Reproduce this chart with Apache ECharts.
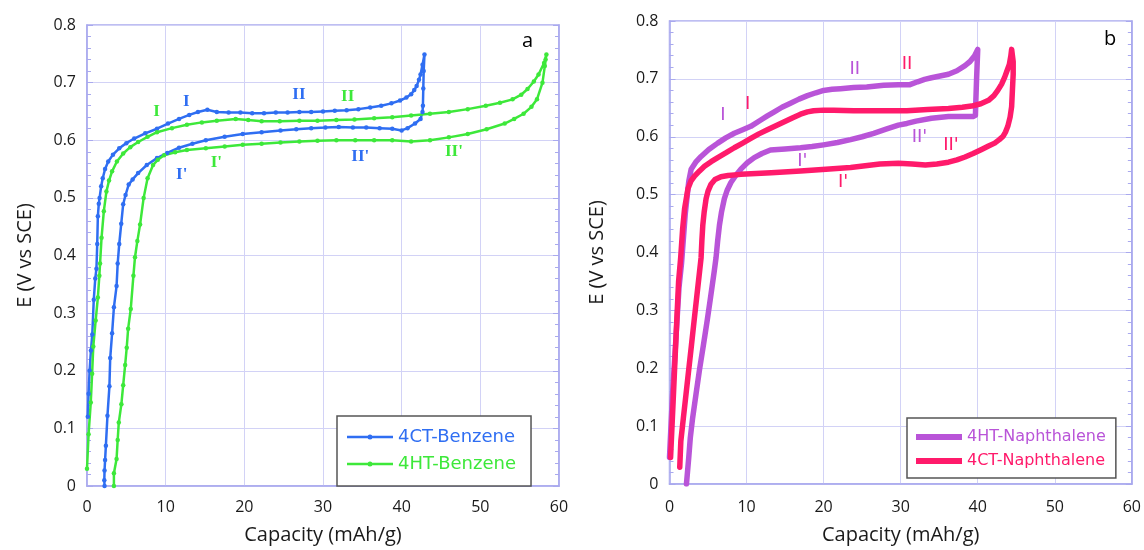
<!DOCTYPE html>
<html>
<head>
<meta charset="utf-8">
<script src="https://cdn.jsdelivr.net/npm/echarts@6/dist/echarts.min.js"></script>
<style>
html,body{margin:0;padding:0;background:#fff;}
#c{width:1144px;height:550px;}
</style>
</head>
<body>
<div id="c"></div>
<script>
// ---------- data (Capacity mAh/g, E V vs SCE) ----------
const xTicks = [0, 10, 20, 30, 40, 50, 60];
const yTicks = [0, 0.1, 0.2, 0.3, 0.4, 0.5, 0.6, 0.7, 0.8];

const benzene4CT = [
  [0.1,0.12],[0.2,0.16],[0.33,0.2],[0.5,0.235],[0.67,0.263],[0.86,0.323],[1.05,0.36],[1.2,0.377],
  [1.3,0.42],[1.38,0.468],[1.5,0.49],[1.6,0.5],[1.8,0.52],[2.0,0.534],[2.3,0.55],[2.7,0.563],
  [3.3,0.575],[4.1,0.586],[5.0,0.595],[6.0,0.603],[7.4,0.612],[8.9,0.62],[10.3,0.629],[11.7,0.637],
  [13.0,0.644],[14.1,0.649],[15.3,0.653],[16.5,0.649],[18.0,0.648],[19.5,0.648],[21,0.647],[22.5,0.647],
  [24,0.648],[25.5,0.648],[27,0.649],[28.5,0.649],[30,0.65],[31.5,0.651],[33,0.652],[34.5,0.654],
  [36,0.657],[37.4,0.66],[38.7,0.664],[39.8,0.669],[40.6,0.674],[41.2,0.68],[41.6,0.687],[41.9,0.694],
  [42.2,0.705],[42.4,0.714],[42.65,0.731],[42.9,0.749],
  [42.8,0.72],[42.75,0.69],[42.7,0.66],[42.65,0.649],[42.4,0.637],[41.7,0.629],[40.75,0.621],[40.0,0.617],
  [38.8,0.62],[37.2,0.621],[35.5,0.622],[33.8,0.622],[32,0.623],[30.3,0.622],[28.5,0.621],[26.6,0.619],
  [24.6,0.617],[22.2,0.614],[19.8,0.611],[17.5,0.606],[15.1,0.6],[13.4,0.594],[11.7,0.587],[10.2,0.578],
  [8.9,0.569],[7.6,0.557],[6.5,0.543],[5.8,0.532],[5.3,0.523],[4.9,0.505],[4.6,0.489],[4.35,0.455],
  [4.1,0.42],[3.9,0.386],[3.76,0.347],[3.42,0.31],[3.19,0.265],[2.95,0.222],[2.85,0.173],[2.6,0.122],
  [2.4,0.07],[2.3,0.045],[2.23,0.027],[2.2,0.01],[2.23,0]
];

const benzene4HT = [
  [0,0.03],[0.2,0.09],[0.48,0.145],[0.65,0.195],[0.8,0.242],[1.1,0.287],[1.38,0.327],[1.57,0.365],
  [1.66,0.386],[1.85,0.431],[2.14,0.477],[2.47,0.511],[2.8,0.53],[3.19,0.546],[3.8,0.563],[4.6,0.577],
  [5.5,0.588],[6.5,0.597],[7.7,0.606],[8.9,0.614],[10.8,0.621],[12.7,0.627],[14.6,0.631],[16.5,0.634],
  [18.9,0.637],[20.5,0.635],[22.2,0.633],[24.5,0.633],[27,0.634],[29.3,0.634],[31.7,0.635],[34,0.636],
  [36.5,0.638],[38.8,0.64],[41.2,0.643],[43.6,0.646],[46.0,0.649],[48.4,0.654],[50.7,0.66],[52.5,0.665],
  [54.1,0.671],[55.2,0.679],[56.0,0.689],[56.8,0.702],[57.4,0.714],[58.1,0.734],[58.4,0.749],
  [58.3,0.74],[58.2,0.729],[57.9,0.7],[57.2,0.671],[56.5,0.658],[55.5,0.646],[54.3,0.637],[53.1,0.629],
  [50.8,0.619],[48.4,0.611],[46.0,0.605],[43.6,0.6],[41.2,0.598],[38.8,0.6],[36.5,0.6],[34.1,0.6],
  [31.7,0.6],[29.3,0.599],[27,0.598],[24.6,0.596],[22.2,0.594],[19.8,0.592],[17.5,0.589],[15.1,0.586],
  [12.7,0.583],[11.2,0.579],[9.8,0.574],[9.0,0.566],[8.4,0.557],[7.7,0.534],[7.2,0.5],[6.75,0.454],
  [6.4,0.425],[6.1,0.397],[5.9,0.365],[5.56,0.307],[5.23,0.273],[5.05,0.24],[4.85,0.21],[4.6,0.175],
  [4.37,0.142],[4.04,0.11],[3.9,0.08],[3.76,0.047],[3.42,0.022],[3.42,0]
];

const naph4HT = [
  [0,0.046],[0.38,0.153],[0.85,0.255],[1.23,0.339],[1.56,0.381],[2.04,0.466],[2.5,0.523],[2.81,0.544],
  [3.4,0.556],[4.1,0.566],[5.1,0.578],[6.26,0.589],[7.3,0.598],[8.41,0.606],[9.5,0.612],[10.55,0.618],
  [11.85,0.629],[12.7,0.636],[13.6,0.643],[14.6,0.651],[15.7,0.658],[16.8,0.665],[17.9,0.671],[19.0,0.676],
  [20.0,0.68],[21.1,0.682],[22.2,0.683],[23.9,0.685],[25.6,0.686],[27.8,0.689],[29.7,0.690],[31.2,0.690],
  [32.2,0.695],[33.1,0.699],[34.0,0.702],[35.1,0.705],[36.2,0.708],[37.3,0.714],[38.35,0.723],[39.0,0.73],
  [39.6,0.74],[40.0,0.751],
  [39.85,0.70],[39.75,0.66],[39.7,0.637],[39.4,0.635],[37.8,0.635],[36.2,0.635],[34.0,0.632],[32.0,0.627],
  [30.8,0.623],[29.7,0.620],[28.1,0.613],[26.5,0.606],[25.0,0.600],[23.5,0.595],[21.8,0.590],[20.0,0.586],
  [18.5,0.583],[17.0,0.581],[15.0,0.579],[13.1,0.577],[12.0,0.571],[11.0,0.564],[10.1,0.555],[9.26,0.544],
  [8.6,0.533],[7.97,0.521],[7.5,0.508],[7.12,0.493],[6.75,0.47],[6.48,0.447],[6.25,0.42],[6.04,0.391],
  [5.8,0.367],[5.3,0.32],[4.9,0.283],[4.4,0.24],[3.9,0.198],[3.45,0.156],[3.0,0.114],[2.7,0.08],
  [2.5,0.046],[2.2,0]
];

const naph4CT = [
  [0.14,0.046],[0.47,0.142],[0.85,0.255],[1.18,0.35],[1.45,0.391],[1.7,0.44],[1.96,0.476],[2.39,0.51],
  [2.8,0.524],[3.25,0.532],[3.9,0.541],[4.54,0.549],[5.4,0.557],[6.26,0.564],[7.3,0.572],[8.41,0.581],
  [9.5,0.589],[10.55,0.597],[11.6,0.605],[12.7,0.612],[13.8,0.619],[14.9,0.626],[16.0,0.633],[17.0,0.639],
  [17.9,0.643],[18.7,0.645],[20.0,0.646],[21.3,0.646],[23.9,0.645],[27.8,0.645],[30.8,0.645],[33.5,0.647],
  [36.2,0.649],[38.0,0.651],[39.2,0.653],[40.4,0.657],[41.4,0.663],[42.1,0.671],[42.6,0.68],[43.1,0.691],
  [43.5,0.703],[43.8,0.714],[44.1,0.725],[44.3,0.74],[44.4,0.751],
  [44.6,0.73],[44.6,0.708],[44.5,0.68],[44.4,0.652],[44.2,0.634],[43.9,0.618],[43.6,0.608],[43.3,0.601],
  [42.8,0.595],[42.2,0.589],[41.4,0.584],[40.5,0.578],[39.4,0.571],[38.35,0.565],[37.3,0.56],[36.2,0.556],
  [34.7,0.553],[33.2,0.551],[31.5,0.553],[29.7,0.554],[27.3,0.553],[25.4,0.550],[23.5,0.547],[20.3,0.544],
  [17.0,0.541],[13.2,0.538],[9.26,0.535],[7.6,0.533],[6.68,0.531],[5.9,0.526],[5.39,0.518],[5.0,0.506],
  [4.75,0.493],[4.5,0.47],[4.32,0.447],[4.2,0.42],[4.1,0.391],[3.9,0.367],[3.55,0.325],[3.2,0.283],
  [2.85,0.24],[2.5,0.198],[2.15,0.156],[1.8,0.114],[1.47,0.074],[1.33,0.029]
];

// plateau labels [x, y, text]
const labelsBlueA   = [[12.7,0.666,'I'],[27.0,0.678,'II'],[12.1,0.539,"I'"],[34.8,0.570,"II'"]];
const labelsGreenA  = [[8.9,0.649,'I'],[33.2,0.675,'II'],[16.5,0.560,"I'"],[46.7,0.579,"II'"]];
const labelsPurpleB = [[7.0,0.637,'I'],[24.1,0.716,'II'],[17.3,0.556,"I'"],[32.5,0.598,"II'"]];
const labelsPinkB   = [[10.2,0.655,'I'],[30.9,0.724,'II'],[22.6,0.520,"I'"],[36.6,0.585,"II'"]];

// ---------- styles ----------
const BLUE = '#2f6ef2', GREEN = '#3de83a', PURPLE = '#b954d8', PINK = '#ff1a6b';
const AXIS = '#a9a9ee', GRIDC = '#d2d2f6';
const tickFont = {fontFamily:'Open Sans', fontSize:16, color:'#1a1a1a'};

function xAxisCfg(gi, gap, margin){
  return {
    gridIndex: gi, type:'value', min: xTicks[0], max: xTicks[xTicks.length-1], interval: 10,
    name:'Capacity (mAh/g)', nameLocation:'middle', nameGap:gap,
    nameTextStyle:{fontFamily:'Open Sans', fontSize:20, color:'#1a1a1a'},
    axisLine:{show:true, lineStyle:{color:AXIS, width:1.5}},
    axisTick:{show:false},
    axisLabel:Object.assign({margin:margin}, tickFont),
    splitLine:{show:true, lineStyle:{color:GRIDC, width:1}}
  };
}
function yAxisCfg(gi, gap){
  return {
    gridIndex: gi, type:'value', min: yTicks[0], max: yTicks[yTicks.length-1], interval: 0.1,
    name:'E (V vs SCE)', nameLocation:'middle', nameGap:gap,
    nameTextStyle:{fontFamily:'Open Sans', fontSize:20, color:'#1a1a1a'},
    axisLine:{show:true, lineStyle:{color:AXIS, width:1.5}},
    axisTick:{show:true, inside:true, length:6, lineStyle:{color:AXIS}},
    minorTick:{show:true, splitNumber:5, length:4, lineStyle:{color:AXIS}},
    axisLabel:Object.assign({margin:11, formatter:v => v === 0 ? '0' : v.toFixed(1)}, tickFont),
    splitLine:{show:true, lineStyle:{color:GRIDC, width:1}}
  };
}
function yRightCfg(gi){
  return {
    gridIndex: gi, type:'value', position:'right', min: yTicks[0], max: yTicks[yTicks.length-1], interval: 0.1,
    axisLine:{show:true, lineStyle:{color:AXIS, width:1.5}},
    axisTick:{show:true, inside:true, length:6, lineStyle:{color:AXIS}},
    minorTick:{show:true, splitNumber:5, length:4, lineStyle:{color:AXIS}},
    axisLabel:{show:false}, splitLine:{show:false}
  };
}
function labelSeries(data, xi, yi, color, font){
  return {
    type:'scatter', xAxisIndex:xi, yAxisIndex:yi, symbolSize:1, silent:true, z:5,
    itemStyle:{color:'rgba(255,255,255,0)'},
    emphasis:{disabled:true},
    data: data.map(d => ({value:[d[0], d[1]], label:{formatter:d[2]}})),
    label:{show:true, position:[0,0], align:'center', verticalAlign:'middle',
           color:color, opacity:1, textBorderWidth:0, textShadowBlur:0,
           fontFamily:font.family, fontSize:font.size, fontWeight:font.weight}
  };
}
const serifF = {family:'Liberation Serif', size:17, weight:'bold'};
const sansF = {family:'DejaVu Sans', size:18, weight:'normal'};
const iconDotLine = 'path://M0,1.3 L46,1.3 L46,3.7 L0,3.7 Z M20.5,2.5 A2.5,2.5 0 1 1 25.5,2.5 A2.5,2.5 0 1 1 20.5,2.5 Z';
const iconThick = 'path://M0,0 L46,0 L46,6 L0,6 Z';

const chart = echarts.init(document.getElementById('c'), null, {renderer:'canvas'});
chart.setOption({
  animation:false,
  backgroundColor:'#ffffff',
  grid:[
    {left:87, top:25, width:472, height:466, show:true, borderColor:AXIS, borderWidth:1.5, backgroundColor:'#fff'},
    {left:669.5, top:21, width:465, height:468.5, show:true, borderColor:AXIS, borderWidth:1.5, backgroundColor:'#fff'}
  ],
  xAxis:[xAxisCfg(0, 39, 13), xAxisCfg(1, 41, 15)],
  yAxis:[yAxisCfg(0, 52), yRightCfg(0), yAxisCfg(1, 62), yRightCfg(1)],
  legend:[
    {
      orient:'vertical', left:337, top:416, padding:[12,15,13,10], itemGap:9,
      itemWidth:46, itemHeight:5, borderColor:'#555', borderWidth:1.5, backgroundColor:'#fff',
      textStyle:{fontFamily:'DejaVu Sans', fontSize:18},
      data:[{name:'4CT-Benzene', icon:iconDotLine, textStyle:{color:BLUE}},
            {name:'4HT-Benzene', icon:iconDotLine, textStyle:{color:GREEN}}]
    },
    {
      orient:'vertical', left:907, top:418, padding:[11,10,9,9], itemGap:8,
      itemWidth:46, itemHeight:6, borderColor:'#555', borderWidth:1.5, backgroundColor:'#fff',
      textStyle:{fontFamily:'DejaVu Sans', fontSize:16},
      data:[{name:'4HT-Naphthalene', icon:iconThick, textStyle:{color:PURPLE}},
            {name:'4CT-Naphthalene', icon:iconThick, textStyle:{color:PINK}}]
    }
  ],
  graphic:[
    {type:'text', left:522, top:31, style:{text:'a', font:'20px "Open Sans"', fill:'#000'}},
    {type:'text', left:1104, top:29, style:{text:'b', font:'20px "Open Sans"', fill:'#000'}}
  ],
  series:[
    {name:'4CT-Benzene', type:'line', xAxisIndex:0, yAxisIndex:0, data:benzene4CT,
     symbol:'circle', symbolSize:4.5, showSymbol:true, color:BLUE,
     lineStyle:{width:2.5, color:BLUE}, itemStyle:{color:BLUE}},
    {name:'4HT-Benzene', type:'line', xAxisIndex:0, yAxisIndex:0, data:benzene4HT,
     symbol:'circle', symbolSize:4.5, showSymbol:true, color:GREEN,
     lineStyle:{width:2.5, color:GREEN}, itemStyle:{color:GREEN}},
    {name:'4HT-Naphthalene', type:'line', xAxisIndex:1, yAxisIndex:2, data:naph4HT,
     symbol:'none', showSymbol:false, color:PURPLE,
     lineStyle:{width:5.5, color:PURPLE, join:'round', cap:'round'}, itemStyle:{color:PURPLE}},
    {name:'4CT-Naphthalene', type:'line', xAxisIndex:1, yAxisIndex:2, data:naph4CT,
     symbol:'none', showSymbol:false, color:PINK,
     lineStyle:{width:5.5, color:PINK, join:'round', cap:'round'}, itemStyle:{color:PINK}},
    labelSeries(labelsBlueA, 0, 0, BLUE, serifF),
    labelSeries(labelsGreenA, 0, 0, GREEN, serifF),
    labelSeries(labelsPurpleB, 1, 2, PURPLE, sansF),
    labelSeries(labelsPinkB, 1, 2, PINK, sansF)
  ]
});
</script>
</body>
</html>
